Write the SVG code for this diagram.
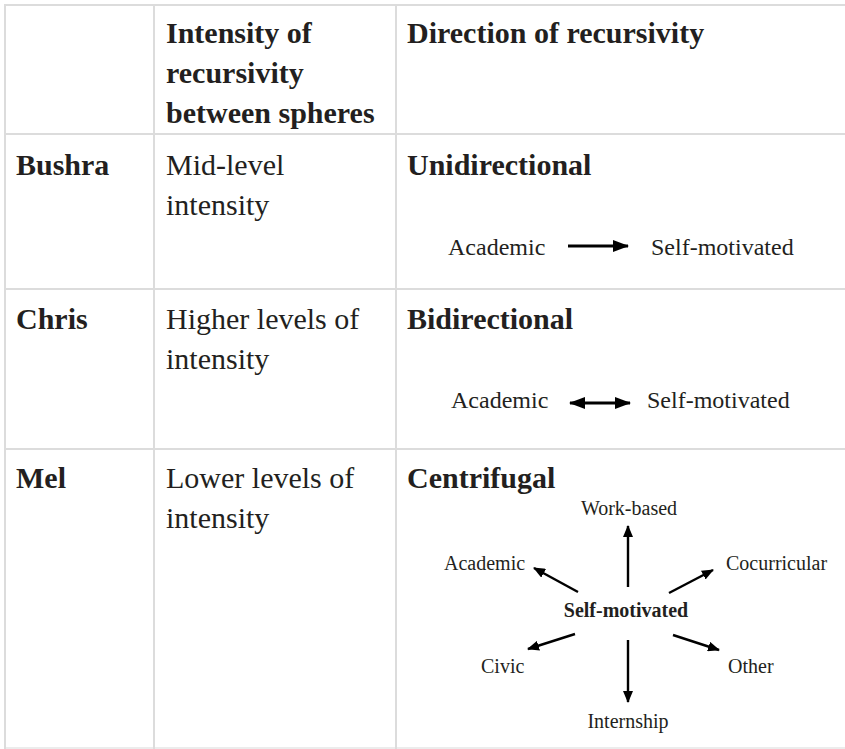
<svg xmlns="http://www.w3.org/2000/svg" width="845" height="749" viewBox="0 0 845 749">
<style>
.grid{stroke:#dcdcdc;stroke-width:2;fill:none}
text{font-family:"Liberation Serif","DejaVu Serif",serif;fill:#231f20}
.h{font-size:30px;font-weight:bold}
.b{font-size:30px}
.m{font-size:24px}
.s{font-size:20px}
.sb{font-size:20px;font-weight:bold}
.arr{stroke:#000;stroke-width:2.8;fill:none}
.arr2{stroke:#000;stroke-width:2.4;fill:none}
</style>
<defs>
<marker id="ah" viewBox="0 0 16 12" refX="15" refY="6" markerWidth="16" markerHeight="12" markerUnits="userSpaceOnUse" orient="auto-start-reverse">
<path d="M0,0 L16,6 L0,12 Z" fill="#000"/>
</marker>
<marker id="ahs" viewBox="0 0 12 10" refX="11" refY="5" markerWidth="12" markerHeight="10" markerUnits="userSpaceOnUse" orient="auto">
<path d="M0,0 L12,5 L0,10 Z" fill="#000"/>
</marker>
</defs>
<rect width="845" height="749" fill="#fff"/>
<g id="grid">
<line class="grid" x1="5" y1="5" x2="845" y2="5"/>
<line class="grid" x1="5" y1="134" x2="845" y2="134"/>
<line class="grid" x1="5" y1="289" x2="845" y2="289"/>
<line class="grid" x1="5" y1="449" x2="845" y2="449"/>
<line class="grid" x1="5" y1="748" x2="845" y2="748" style="stroke:#ececec"/>
<line class="grid" x1="5" y1="4" x2="5" y2="749"/>
<line class="grid" x1="154" y1="4" x2="154" y2="749"/>
<line class="grid" x1="396" y1="4" x2="396" y2="749"/>
</g>
<g id="header">
<text class="h" x="166" y="43">Intensity of</text>
<text class="h" x="166" y="83">recursivity</text>
<text class="h" x="166" y="123">between spheres</text>
<text class="h" x="407" y="43">Direction of recursivity</text>
</g>
<g id="row-bushra">
<text class="h" x="16" y="175">Bushra</text>
<text class="b" x="166" y="175">Mid-level</text>
<text class="b" x="166" y="215">intensity</text>
<text class="h" x="407" y="175">Unidirectional</text>
</g>
<g id="bushra-academic"><text class="m" x="448" y="255">Academic</text></g>
<g id="bushra-self"><text class="m" x="651" y="255">Self-motivated</text></g>
<g id="row-chris">
<text class="h" x="16" y="329">Chris</text>
<text class="b" x="166" y="329">Higher levels of</text>
<text class="b" x="166" y="369">intensity</text>
<text class="h" x="407" y="329">Bidirectional</text>
</g>
<g id="chris-academic"><text class="m" x="451" y="408">Academic</text></g>
<g id="chris-self"><text class="m" x="647" y="408">Self-motivated</text></g>
<g id="row-mel">
<text class="h" x="16" y="488">Mel</text>
<text class="b" x="166" y="488">Lower levels of</text>
<text class="b" x="166" y="528">intensity</text>
<text class="h" x="407" y="488">Centrifugal</text>
</g>
<g id="mel-self"><text class="sb" x="626" y="617" text-anchor="middle">Self-motivated</text></g>
<g id="mel-work"><text class="s" x="629" y="515" text-anchor="middle">Work-based</text></g>
<g id="mel-academic"><text class="s" x="444" y="570">Academic</text></g>
<g id="mel-cocurricular"><text class="s" x="726" y="570">Cocurricular</text></g>
<g id="mel-civic"><text class="s" x="481" y="673">Civic</text></g>
<g id="mel-other"><text class="s" x="728" y="673">Other</text></g>
<g id="mel-internship"><text class="s" x="628" y="728" text-anchor="middle">Internship</text></g>
<g id="connectors">
<line class="arr" x1="568" y1="246" x2="628" y2="246" marker-end="url(#ah)"/>
<line class="arr" x1="570" y1="403" x2="630" y2="403" marker-start="url(#ah)" marker-end="url(#ah)"/>
<line class="arr2" x1="628" y1="587" x2="628" y2="526" marker-end="url(#ahs)"/>
<line class="arr2" x1="578" y1="592" x2="534" y2="568" marker-end="url(#ahs)"/>
<line class="arr2" x1="669" y1="593" x2="713" y2="570" marker-end="url(#ahs)"/>
<line class="arr2" x1="575" y1="634" x2="528" y2="649" marker-end="url(#ahs)"/>
<line class="arr2" x1="628" y1="640" x2="628" y2="702" marker-end="url(#ahs)"/>
<line class="arr2" x1="673" y1="635" x2="719" y2="650" marker-end="url(#ahs)"/>
</g>
</svg>
